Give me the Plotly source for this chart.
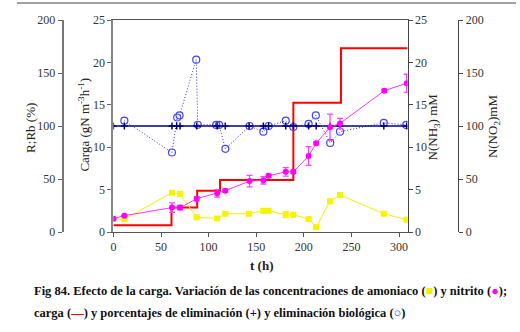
import plotly.graph_objects as go

# Sampling times (h)
t_conc = [0, 11.5, 61.5, 70, 87.5, 109, 117.5, 142.5, 157.5, 163, 181, 189, 205, 213, 227.5, 238, 284, 308]
# Ammonia, N(NH3) mM
nh3 = [1.53, 1.52, 4.63, 4.48, 1.73, 1.6, 2.16, 2.16, 2.5, 2.5, 2.04, 2.04, 1.53, 0.6, 3.64, 4.36, 2.16, 1.45]
nh3_err = [0.1, 0.1, 0.1, 0.2, 0.1, 0.1, 0.1, 0.1, 0.15, 0.15, 0.35, 0.1, 0.1, 0.1, 0.1, 0.1, 0.1, 0.1]
# Nitrite, N(NO2) mM
t_no2 = [0, 11.5, 61.5, 70, 87.5, 109, 117.5, 143, 157.5, 163, 181, 189, 205, 213, 227.5, 238, 284.5, 308]
no2 = [12.6, 15.4, 23.0, 23.0, 31.4, 36.5, 39.0, 48.0, 48.8, 53.0, 56.8, 56.8, 71.7, 83.7, 98.8, 102.4, 133.3, 140.3]
no2_err = [0.5, 0.5, 4.5, 2.0, 2.0, 3.5, 1.5, 5.4, 3.5, 1.5, 4.0, 1.5, 8.8, 1.5, 12.4, 4.8, 1.5, 8.5]

# Nitrogen load (gN m-3 h-1), stepwise
t_load = [0, 61, 88, 112, 189, 239, 309]
load = [0.8, 2.9, 4.87, 6.13, 15.25, 21.66, 21.66]

# Removal percentage R (%)
t_r = [0, 11.5, 61.5, 66.5, 70, 87.5, 109, 117.5, 142.5, 157.5, 163, 181, 189, 205, 213, 227.5, 238, 284, 308]
r_pct = [100] * 19
# Biological removal Rb (%)
t_rb = [11.5, 61.5, 67, 69.5, 87, 88.6, 108, 111, 117.6, 143, 157.5, 163, 181, 189, 205, 212.6, 227.7, 238, 284, 307.6]
rb_pct = [105, 75, 108, 110, 162.6, 101.2, 101, 101, 78.5, 100, 94.6, 100, 105, 99, 102, 110, 84, 94.6, 103, 101]

SERIF = "Times New Roman, Liberation Serif, DejaVu Serif, serif"
W, H = 520, 332
ML, MR, MT, MB = 10, 10, 20, 100
PW = W - ML - MR
PH = H - MT - MB


def px_x(px):
    return (px - ML) / PW


def px_y(py):
    return (H - MB - py) / PH


fig = go.Figure()

fig.add_trace(go.Scatter(
    x=t_load, y=load, mode="lines", line=dict(color="#ff0000", width=2, shape="hv"),
    xaxis="x", yaxis="y"))

fig.add_trace(go.Scatter(
    x=t_conc, y=nh3, mode="lines+markers",
    line=dict(color="#f2f200", width=1),
    marker=dict(symbol="square", size=6, color="#f5f500"),
    error_y=dict(type="data", array=nh3_err, color="#f2f200", thickness=1, width=3),
    yaxis="y2"))

fig.add_trace(go.Scatter(
    x=t_no2, y=no2, mode="lines+markers",
    line=dict(color="#ff33ff", width=1),
    marker=dict(symbol="circle", size=6, color="#ff00ff"),
    error_y=dict(type="data", array=no2_err, color="#ff44ff", thickness=1.3, width=3),
    yaxis="y4"))

fig.add_trace(go.Scatter(
    x=t_rb, y=rb_pct, mode="lines+markers",
    line=dict(color="#3333bb", width=1, dash="1px,2px"),
    marker=dict(symbol="circle-open", size=7, color="#4444ff", line=dict(width=1.2)),
    yaxis="y3"))

fig.add_trace(go.Scatter(
    x=t_r, y=r_pct, mode="lines+markers",
    line=dict(color="#000080", width=1.5),
    marker=dict(symbol="cross-thin", size=5, color="#000080", line=dict(width=1.5, color="#000080")),
    yaxis="y3"))

tickfont = dict(family=SERIF, size=12, color="#333333")
common = dict(showgrid=False, zeroline=False, ticks="outside", ticklen=4,
              tickfont=tickfont, showline=True)

fig.update_layout(
    width=W, height=H,
    margin=dict(l=ML, r=MR, t=MT, b=MB),
    paper_bgcolor="white", plot_bgcolor="white",
    showlegend=False,
    font=dict(family=SERIF),
    xaxis=dict(domain=[px_x(111), px_x(407)], range=[0, 309], tickvals=[0, 50, 100, 150, 200, 250, 300],
               linecolor="#555555", linewidth=1, mirror=True, tickcolor="#555555", **common),
    yaxis=dict(range=[0, 25], dtick=5, anchor="x", side="left",
               linecolor="#888888", linewidth=2, tickcolor="#666666", **common),
    yaxis2=dict(range=[0, 25], dtick=5, anchor="x", side="right", overlaying="y",
                linecolor="#444444", linewidth=1, tickcolor="#444444", **common),
    yaxis3=dict(range=[0, 200], dtick=50, anchor="free", position=px_x(60), side="left", overlaying="y",
                linecolor="#777777", linewidth=2, tickcolor="#666666", **common),
    yaxis4=dict(range=[0, 200], dtick=50, anchor="free", position=px_x(458), side="right", overlaying="y",
                linecolor="#444444", linewidth=1, tickcolor="#444444", **common),
)

titlefont = dict(family=SERIF, size=13, color="#222222")


def label(text, px, py, angle=0, font=titlefont, xanchor="center"):
    fig.add_annotation(text=text, x=px_x(px), y=px_y(py), xref="paper", yref="paper",
                       showarrow=False, textangle=angle, font=font, xanchor=xanchor, yanchor="middle")


label("R;Rb (%)", 27, 128, -90)
label("Carga (gN m<sup>-3</sup>h<sup>-1</sup>)", 81, 125, -90)
label("N(NH<sub>3</sub>) mM", 433, 127, -90)
label("N(NO<sub>2</sub>)mM", 493, 127, -90)
label("<b>t (h)</b>", 260, 265)

capfont = dict(family=SERIF, size=12.5, color="#111111")
label("<b>Fig 84. Efecto de la carga. Variación de las concentraciones de amoniaco "
      "(<span style='color:#f0f000'>■</span>) y nitrito (<span style='color:#ff00ff'>●</span>);</b>",
      29, 291, 0, capfont, "left")
label("<b>carga (<span style='color:#ff0000'>—</span>) y porcentajes de eliminación "
      "(<span style='color:#000080'>+</span>) y eliminación biológica "
      "(<span style='color:#3333ff'>○</span>)</b>",
      29, 313, 0, capfont, "left")

# Rule across the top of the figure
fig.add_shape(type="line", xref="paper", yref="paper",
              x0=px_x(14), x1=px_x(516), y0=px_y(3), y1=px_y(3),
              line=dict(color="#444444", width=1))

fig.write_html("out.html")
